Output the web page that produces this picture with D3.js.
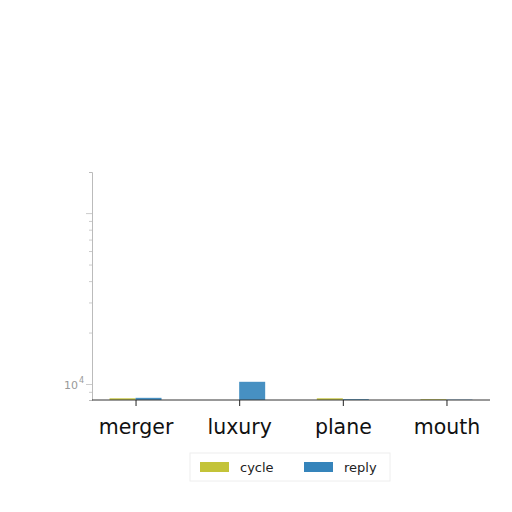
<!DOCTYPE HTML>
<html>
<head>
<meta charset="utf-8">
<script type="text/javascript" src="https://d3js.org/d3.v7.min.js"></script>
<style>
  body { margin: 0; background: #fff; }
  text { font-family: "DejaVu Sans", sans-serif; }
</style>
</head>
<body>
<div id="chart"></div>
<script type="text/javascript">
// chart data
var categories = ["merger", "luxury", "plane", "mouth"];
var seriesNames = ["cycle", "reply"];
var cycleValues = [8250, 7000, 8250, 8150];
var replyValues = [8300, 10300, 8150, 8100];
var seriesColors = ["#bcbd22", "#1f77b4"];

var W = 512, H = 512;
var plotLeft = 92, plotRight = 490, plotTop = 172, plotBottom = 400;

var svg = d3.select("#chart").append("svg")
  .attr("width", W).attr("height", H);

var x = d3.scalePoint().domain(categories).range([plotLeft, plotRight]).padding(0.42);
var y = d3.scaleLog().domain([8060, 174000]).range([plotBottom, plotTop]);
var barW = 26;

var series = [cycleValues, replyValues];
series.forEach(function(vals, s) {
  svg.append("g").selectAll("rect")
    .data(vals)
    .enter().append("rect")
    .attr("x", function(d, i) { return x(categories[i]) + (s - 1) * barW; })
    .attr("width", barW)
    .attr("y", function(d) { return y(Math.max(d, y.domain()[0])); })
    .attr("height", function(d) { return plotBottom - y(Math.max(d, y.domain()[0])); })
    .attr("fill", seriesColors[s])
    .attr("opacity", 0.82);
});

// y axis (log), only 10^4 labelled
var yAxis = d3.axisLeft(y)
  .tickValues(y.ticks())
  .tickSize(3)
  .tickFormat(function() { return ""; });
var gy = svg.append("g").attr("transform", "translate(" + plotLeft + ",0)").call(yAxis);
gy.select(".domain").attr("stroke", "#bbb");
gy.selectAll(".tick line").attr("stroke", "#ccc")
  .attr("x2", function(d) { return (d === 10000 || d === 100000) ? -6 : -3; });

svg.append("text")
  .attr("x", 78).attr("y", y(10000) + 5)
  .attr("text-anchor", "end")
  .attr("font-size", 11).attr("fill", "#999")
  .text("10");
svg.append("text")
  .attr("x", 79).attr("y", y(10000) - 1)
  .attr("font-size", 8).attr("fill", "#999")
  .text("4");

// x axis
var xAxis = d3.axisBottom(x).tickSize(6).tickSizeOuter(0).tickPadding(13);
var gx = svg.append("g").attr("transform", "translate(0," + plotBottom + ")").call(xAxis);
gx.select(".domain").attr("stroke", "#333").attr("d", "M" + plotLeft + ",0H" + plotRight);
gx.selectAll(".tick line").attr("stroke", "#222");
gx.selectAll(".tick text").attr("font-size", 20.5).attr("fill", "#111")
  .attr("font-family", "DejaVu Sans, sans-serif");

// legend
var legend = svg.append("g");
legend.append("rect")
  .attr("x", 190).attr("y", 453).attr("width", 200).attr("height", 28)
  .attr("fill", "#fff").attr("stroke", "#eee");
var legX = [200, 304];
seriesNames.forEach(function(name, i) {
  legend.append("rect")
    .attr("x", legX[i]).attr("y", 462).attr("width", 29).attr("height", 10)
    .attr("fill", seriesColors[i]).attr("opacity", 0.9);
  legend.append("text")
    .attr("x", legX[i] + 40).attr("y", 472)
    .attr("font-size", 13).attr("fill", "#222")
    .text(name);
});
</script>
</body>
</html>
